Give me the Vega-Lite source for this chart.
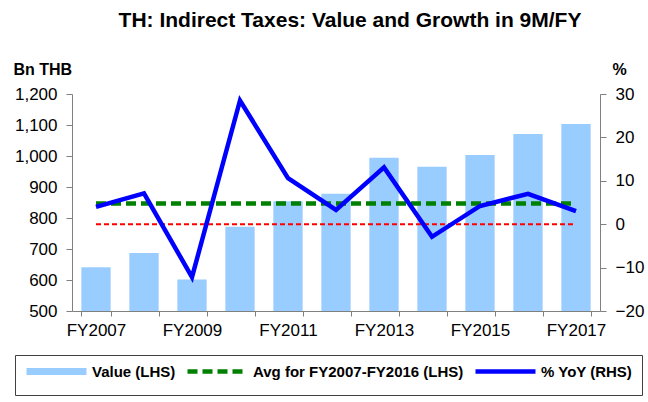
{
  "$schema": "https://vega.github.io/schema/vega-lite/v6.json",
  "width": 528,
  "height": 217,
  "autosize": {"type": "none"},
  "padding": {"left": 72, "top": 94, "right": 48, "bottom": 91},
  "background": "white",
  "config": {
    "font": "Liberation Sans",
    "view": {"stroke": null},
    "axis": {"grid": false, "ticks": true, "tickWidth": 1, "domainColor": "#808080", "tickColor": "#808080", "labelColor": "#000000", "labelFont": "Liberation Sans", "labelFontSize": 17, "titleFont": "Liberation Sans", "titleFontSize": 16, "titleFontWeight": "bold", "titleColor": "#000000", "labelOverlap": false}
  },
  "title": {"text": "TH: Indirect Taxes: Value and Growth in 9M/FY", "fontSize": 21, "fontWeight": "bold", "font": "Liberation Sans", "color": "#000000", "anchor": "middle", "frame": "group", "dx": 14, "offset": 30},
  "data": {"values": [
    {"year": "FY2007", "value": 641, "yoy": 4.0, "avg": 846.7},
    {"year": "FY2008", "value": 687, "yoy": 7.1, "avg": 846.7},
    {"year": "FY2009", "value": 602, "yoy": -12.2, "avg": 846.7},
    {"year": "FY2010", "value": 772, "yoy": 28.5, "avg": 846.7},
    {"year": "FY2011", "value": 854, "yoy": 10.6, "avg": 846.7},
    {"year": "FY2012", "value": 878, "yoy": 3.3, "avg": 846.7},
    {"year": "FY2013", "value": 994, "yoy": 13.1, "avg": 846.7},
    {"year": "FY2014", "value": 965, "yoy": -2.9, "avg": 846.7},
    {"year": "FY2015", "value": 1003, "yoy": 4.2, "avg": 846.7},
    {"year": "FY2016", "value": 1071, "yoy": 7.0, "avg": 846.7},
    {"year": "FY2017", "value": 1103, "yoy": 3.0, "avg": 846.7}
  ]},
  "encoding": {
    "x": {"field": "year", "type": "nominal", "sort": null,
      "scale": {"paddingInner": 0.39, "paddingOuter": 0.195},
      "axis": {"title": null, "labelAngle": 0, "tickBand": "extent", "tickSize": 5, "labelPadding": 6,
        "labelExpr": "toNumber(substring(datum.value, 2)) % 2 == 1 ? datum.value : ''"}}
  },
  "layer": [
    {
      "layer": [
        {
          "mark": {"type": "bar", "color": "#99CCFF", "clip": true},
          "encoding": {
            "y": {"field": "value", "type": "quantitative",
              "scale": {"domain": [500, 1200], "zero": false, "nice": false},
              "axis": {"title": "Bn THB", "titleAngle": 0, "titleAlign": "left", "titleBaseline": "alphabetic", "titleX": -59, "titleY": -20,
                "values": [500, 600, 700, 800, 900, 1000, 1100, 1200], "format": ",d", "tickSize": 6, "labelPadding": 9, "labelOverlap": false}},
            "color": {"datum": "Value (LHS)", "type": "nominal",
              "scale": {"domain": ["Value (LHS)", "Avg for FY2007-FY2016 (LHS)", "% YoY (RHS)"], "range": ["#99CCFF", "#008000", "#0000FF"]},
              "legend": {
                "title": null, "orient": "none", "legendX": -57, "legendY": 261, "direction": "horizontal", "gridAlign": "none",
                "strokeColor": "#404040", "fillColor": "white", "padding": 9,
                "symbolType": "M-1,0H11", "symbolSize": 100, "labelOffset": 53,
                "columnPadding": 2, "labelFont": "Liberation Sans", "labelFontSize": 15, "labelFontWeight": "bold", "labelColor": "#000000", "labelLimit": 400,
                "encode": {"symbols": {"update": {
                  "shape": {"value": "M-1,0H11"},
                  "stroke": {"signal": "scale('color', datum.value)"},
                  "fill": {"value": "transparent"},
                  "opacity": {"value": 1},
                  "strokeWidth": {"signal": "datum.value === 'Value (LHS)' ? 7 : 4.5"},
                  "strokeDash": {"signal": "datum.value === 'Avg for FY2007-FY2016 (LHS)' ? [10, 5] : [1, 0]"}
                }}}
              }}
          }
        },
        {
          "mark": {"type": "line", "strokeWidth": 4.5, "strokeDash": [10, 5]},
          "encoding": {
            "y": {"field": "avg", "type": "quantitative",
              "axis": {"title": "Bn THB", "titleAngle": 0, "titleAlign": "left", "titleBaseline": "alphabetic", "titleX": -59, "titleY": -20,
                "values": [500, 600, 700, 800, 900, 1000, 1100, 1200], "format": ",d", "tickSize": 6, "labelPadding": 9, "labelOverlap": false}},
            "color": {"datum": "Avg for FY2007-FY2016 (LHS)", "type": "nominal"}
          }
        }
      ]
    },
    {
      "layer": [
        {
          "mark": {"type": "line", "strokeWidth": 2, "strokeDash": [5, 3], "color": "#FF0000"},
          "encoding": {
            "y": {"datum": 0, "type": "quantitative",
              "scale": {"domain": [-20, 30], "nice": false, "zero": false},
              "axis": {"orient": "right", "title": "%", "titleAngle": 0, "titleAlign": "left", "titleBaseline": "alphabetic", "titleX": 12, "titleY": -20,
                "values": [-20, -10, 0, 10, 20, 30], "tickSize": 6, "labelPadding": 9, "labelOverlap": false}}
          }
        },
        {
          "mark": {"type": "line", "strokeWidth": 4.5},
          "encoding": {
            "y": {"field": "yoy", "type": "quantitative",
              "axis": {"orient": "right", "title": "%", "titleAngle": 0, "titleAlign": "left", "titleBaseline": "alphabetic", "titleX": 12, "titleY": -20,
                "values": [-20, -10, 0, 10, 20, 30], "tickSize": 6, "labelPadding": 9, "labelOverlap": false}},
            "color": {"datum": "% YoY (RHS)", "type": "nominal"}
          }
        }
      ]
    }
  ],
  "resolve": {"scale": {"y": "independent"}}
}
